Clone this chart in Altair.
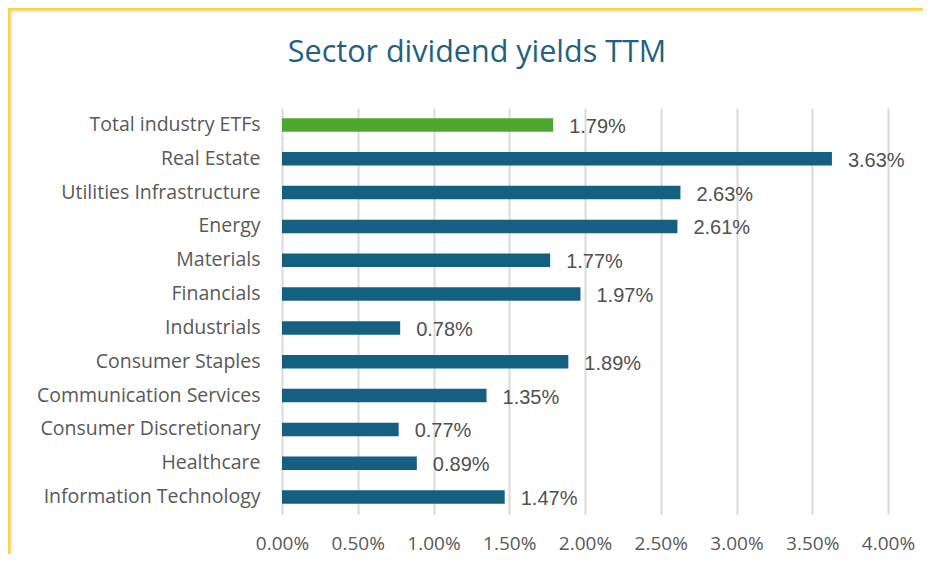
import altair as alt
import pandas as pd

sectors = [
    "Total industry ETFs",
    "Real Estate",
    "Utilities Infrastructure",
    "Energy",
    "Materials",
    "Financials",
    "Industrials",
    "Consumer Staples",
    "Communication Services",
    "Consumer Discretionary",
    "Healthcare",
    "Information Technology",
]
yields = [1.79, 3.63, 2.63, 2.61, 1.77, 1.97, 0.78, 1.89, 1.35, 0.77, 0.89, 1.47]
groups = ["total"] + ["sector"] * 11
x_ticks = [0, 0.5, 1.0, 1.5, 2.0, 2.5, 3.0, 3.5, 4.0]
title_text = "Sector dividend yields TTM"

df = pd.DataFrame({"sector": sectors, "yield": [v / 100 for v in yields], "group": groups})

FONT = "Open Sans"
W, H = 606, 406

y_enc = alt.Y("sector:N", sort=sectors, title=None,
              scale=alt.Scale(paddingInner=0.6, paddingOuter=0.3),
              axis=alt.Axis(labelFontSize=19.5, labelColor="#595959", labelFont=FONT,
                            ticks=False, domain=False, labelPadding=22, grid=False,
                            labelLimit=400))

bars = alt.Chart(df).mark_bar().encode(
    x=alt.X("yield:Q", title=None,
            scale=alt.Scale(domain=[0, 0.04], nice=False),
            axis=alt.Axis(values=[v / 100 for v in x_ticks], format=".2%",
                          labelFontSize=19, labelColor="#595959", labelFont=FONT,
                          ticks=False, domain=False, labelPadding=20,
                          labelOverlap=False, labelBound=False, labelFlush=False,
                          gridColor="#D9D9D9", gridWidth=2)),
    y=y_enc,
    color=alt.Color("group:N", scale=alt.Scale(domain=["total", "sector"], range=["#4EA72E", "#156082"]), legend=None),
)

labels = alt.Chart(df).mark_text(align="left", baseline="middle", dx=16, dy=2,
                                 fontSize=20, font="Liberation Sans", color="#505050").encode(
    x="yield:Q",
    y=alt.Y("sector:N", sort=sectors),
    text=alt.Text("yield:Q", format=".2%"),
)

title = alt.Chart(pd.DataFrame({"t": [title_text]})).mark_text(
    align="center", baseline="middle", fontSize=30.5, font=FONT, color="#1F6185").encode(
    text="t:N", x=alt.value(195), y=alt.value(-55))

border_top = alt.Chart(pd.DataFrame({"a": [0]})).mark_rule(color="#FFD43B", strokeWidth=3).encode(
    x=alt.value(-274), x2=alt.value(W + 40), y=alt.value(-99))
border_left = alt.Chart(pd.DataFrame({"a": [0]})).mark_rule(color="#FFD43B", strokeWidth=3).encode(
    x=alt.value(-273), y=alt.value(-100), y2=alt.value(H + 60))
shadow_top = alt.Chart(pd.DataFrame({"a": [0]})).mark_rule(color="#E6E6E6", strokeWidth=1.5).encode(
    x=alt.value(-271), x2=alt.value(W + 40), y=alt.value(-96.5))
shadow_left = alt.Chart(pd.DataFrame({"a": [0]})).mark_rule(color="#E6E6E6", strokeWidth=1.5).encode(
    x=alt.value(-270.5), y=alt.value(-97), y2=alt.value(H + 60))

chart = alt.layer(bars, labels, title, shadow_top, shadow_left, border_top, border_left).properties(
    width=W, height=H,
    background="white",
    autosize=alt.AutoSizeParams(type="none"),
    padding={"left": 274, "top": 100, "right": 35, "bottom": 40},
).configure_view(stroke=None)

chart.save("out.html", embed_options={"renderer": "svg", "actions": False})
